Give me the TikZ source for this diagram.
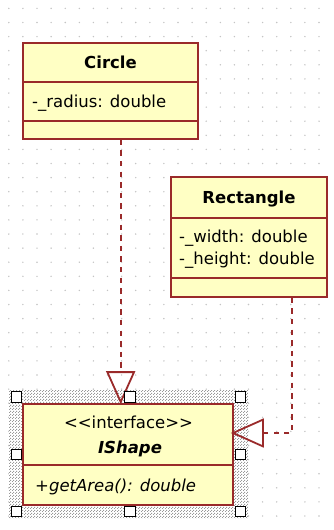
\documentclass[tikz,border=0pt]{standalone}
\usepackage{fontspec}
\setmainfont{DejaVu Sans}
\usetikzlibrary{arrows.meta,patterns}

\definecolor{umlfill}{HTML}{FFFFC4}
\definecolor{umlline}{HTML}{9A2A2A}
\definecolor{griddot}{HTML}{C4C4C4}

% fine dotted texture for the selection halo
\pgfdeclarepatternformonly{halodots}{\pgfqpoint{0pt}{0pt}}{\pgfqpoint{3pt}{3pt}}{\pgfqpoint{3pt}{3pt}}{%
  \pgfpathrectangle{\pgfqpoint{0pt}{0pt}}{\pgfqpoint{1.2pt}{1.2pt}}%
  \pgfpathrectangle{\pgfqpoint{1.5pt}{1.5pt}}{\pgfqpoint{1.2pt}{1.2pt}}%
  \pgfusepath{fill}}

\tikzset{
  classbox/.style={draw=umlline, fill=umlfill, line width=1.6pt, inner sep=0pt},
  divider/.style={draw=umlline, line width=1.5pt},
  txt/.style={inner sep=0pt, text=black},
  realize/.style={draw=umlline, line width=1.8pt, dash pattern=on 5.3pt off 5.3pt,
    -{Triangle[open, length=33pt, width=29pt, line width=1.8pt]}},
  handle/.style={draw=black, fill=white, line width=1.2pt, minimum size=10.5pt,
    inner sep=0pt, rectangle},
}

\begin{document}
\begin{tikzpicture}[x=1pt, y=-1pt, font=\fontsize{16.5}{20}\selectfont]
  % canvas
  \fill[white] (0,0) rectangle (333,530);
  \useasboundingbox (0,0) rectangle (333,530);

  % dotted grid
  \foreach \i in {0,...,22}
    \foreach \j in {0,...,36}
      \fill[griddot] (8.8+14.1*\i, 8.4+14.1*\j) circle (0.8);

  % selection halo behind the interface
  \fill[white] (9,390) rectangle (248,518);
  \fill[pattern=halodots, pattern color=gray!80] (9,390) rectangle (248,518);

  % class Circle
  \node[classbox, minimum width=175pt, minimum height=96pt] (circle) at (110.5,91) {};
  \draw[divider] (circle.west |- 0,82) -- (circle.east |- 0,82);
  \draw[divider] (circle.west |- 0,121) -- (circle.east |- 0,121);
  \node[txt, anchor=base, font=\fontsize{16.5}{20}\selectfont\bfseries] (circlename) at (110.5,68) {Circle};
  \node[txt, anchor=base west] (circleattr) at (32,107) {-\_radius: double};

  % class Rectangle
  \node[classbox, minimum width=156pt, minimum height=120pt] (rect) at (249,237) {};
  \draw[divider] (rect.west |- 0,218) -- (rect.east |- 0,218);
  \draw[divider] (rect.west |- 0,278) -- (rect.east |- 0,278);
  \node[txt, anchor=base, font=\fontsize{16.5}{20}\selectfont\bfseries] (rectname) at (249,203) {Rectangle};
  \node[txt, anchor=base west] (rectwidth) at (179,242.5) {-\_width: double};
  \node[txt, anchor=base west] (rectheight) at (179,264.5) {-\_height: double};

  % interface IShape
  \node[classbox, minimum width=210pt, minimum height=101pt] (iface) at (128,454.5) {};
  \draw[divider] (iface.west |- 0,465) -- (iface.east |- 0,465);
  \node[txt, anchor=base] (stereo) at (128.5,428.5) {{<}{<}interface{>}{>}};
  \node[txt, anchor=base, font=\fontsize{16.5}{20}\selectfont\bfseries\itshape] (ifacename) at (130,453.5) {IShape};
  \node[txt, anchor=base west, font=\fontsize{16.5}{20}\selectfont\itshape] (ifaceop) at (35,491) {+getArea(): double};

  % realization connectors
  \draw[realize, shorten >=-1pt] ([xshift=10.2pt]circle.south) -- ([xshift=-7.3pt]iface.north);
  \draw[realize, shorten >=-3pt] ([xshift=43pt]rect.south) |- ([yshift=21.5pt]iface.east);

  % selection handles
  \foreach \hx/\hy/\hn in {16.5/397/nw, 130/397/n, 240.5/397/ne,
                           16.5/454.5/w, 240.5/454.5/e,
                           16.5/511.5/sw, 130/511.5/s, 240.5/511.5/se}
    \node[handle] (h\hn) at (\hx,\hy) {};
\end{tikzpicture}
\end{document}
